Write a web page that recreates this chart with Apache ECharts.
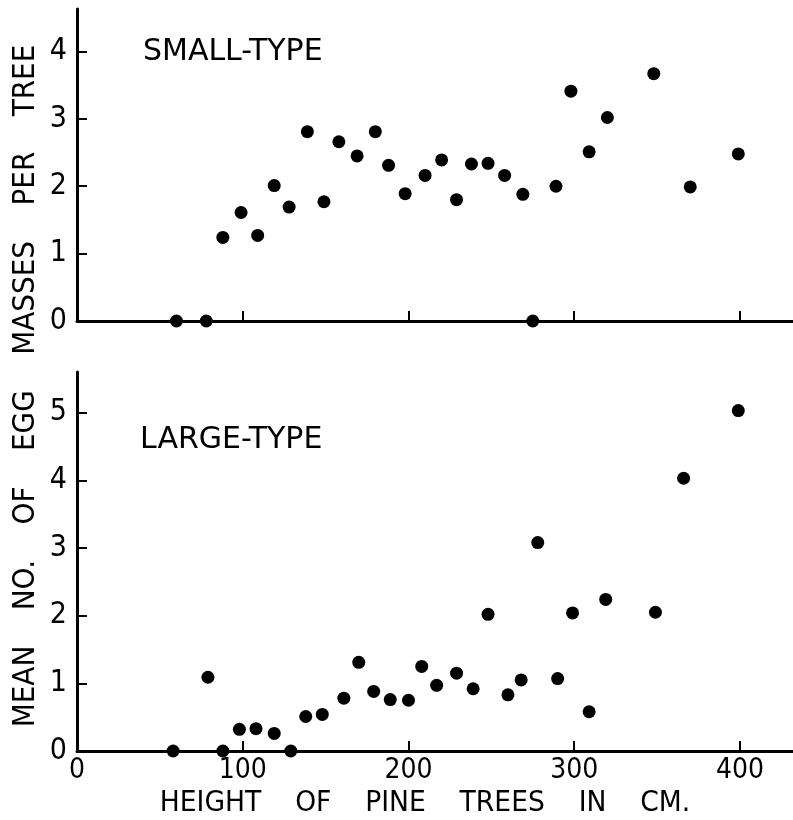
<!DOCTYPE html>
<html>
<head>
<meta charset="utf-8">
<script src="https://cdn.jsdelivr.net/npm/echarts@6/dist/echarts.min.js"></script>
<style>
html,body{margin:0;padding:0;background:#fff;}
#main{width:793px;height:820px;}
</style>
</head>
<body>
<div id="main"></div>
<script>
// Heights of pine trees (cm) and mean number of egg masses per tree
const smallX = [60, 78, 88, 99, 109, 119, 128, 139, 149, 158, 169, 180, 188, 198, 210, 220, 229, 238, 248, 258, 269, 275, 289, 298, 309, 320, 348, 370, 399];
const smallY = [0, 0, 1.24, 1.61, 1.27, 2.01, 1.69, 2.81, 1.77, 2.66, 2.45, 2.81, 2.31, 1.89, 2.16, 2.39, 1.80, 2.33, 2.34, 2.16, 1.88, 0, 2.0, 3.41, 2.51, 3.02, 3.67, 1.99, 2.48];
const largeX = [58, 79, 88, 98, 108, 119, 129, 138, 148, 161, 170, 179, 189, 200, 208, 217, 229, 239, 248, 260, 268, 278, 290, 299, 309, 319, 349, 366, 399];
const largeY = [0, 1.09, 0, 0.32, 0.33, 0.26, 0, 0.51, 0.54, 0.78, 1.31, 0.88, 0.76, 0.75, 1.25, 0.97, 1.15, 0.92, 2.02, 0.83, 1.05, 3.08, 1.07, 2.04, 0.58, 2.24, 2.05, 4.03, 5.03];
const xTicks = [0, 100, 200, 300, 400];
const smallTicks = [0, 1, 2, 3, 4];
const largeTicks = [0, 1, 2, 3, 4, 5];
const panelTitles = ['SMALL-TYPE', 'LARGE-TYPE'];
const xTitle = 'HEIGHT    OF    PINE    TREES    IN    CM.';
const yTitle = 'MEAN    NO.    OF    EGG    MASSES    PER    TREE';

const FONT = "'DejaVu Sans Condensed', 'Roboto', sans-serif";
const chart = echarts.init(document.getElementById('main'), null, {renderer: 'canvas'});

const axisLine = {show: true, lineStyle: {color: '#000', width: 3}};
function xAxis(gridIndex, showLabels) {
  return {
    type: 'value', gridIndex: gridIndex, min: 0, max: 432,
    axisLine: axisLine,
    axisTick: {show: true, inside: true, length: 10, lineStyle: {color: '#000', width: 2}, customValues: [100, 200, 300, 400]},
    axisLabel: {show: showLabels, color: '#000', fontFamily: FONT, fontSize: 28, margin: 6, customValues: xTicks},
    splitLine: {show: false}
  };
}
function yAxis(gridIndex, max, ticks) {
  return {
    type: 'value', gridIndex: gridIndex, min: 0, max: max,
    axisLine: axisLine,
    axisTick: {show: true, inside: true, length: 10, lineStyle: {color: '#000', width: 2}, customValues: ticks.slice(1)},
    axisLabel: {color: '#000', fontFamily: FONT, fontSize: 30, margin: 10, customValues: ticks},
    splitLine: {show: false}
  };
}

chart.setOption({
  animation: false,
  backgroundColor: '#fff',
  grid: [
    {left: 77, top: 9, width: 716, height: 312},
    {left: 77, top: 372, width: 716, height: 379}
  ],
  xAxis: [xAxis(0, false), xAxis(1, true)],
  yAxis: [yAxis(0, 4.63, smallTicks), yAxis(1, 5.6, largeTicks)],
  series: [
    {type: 'scatter', xAxisIndex: 0, yAxisIndex: 0, symbolSize: 13,
     itemStyle: {color: '#000', opacity: 1},
     data: smallX.map((x, i) => [x, smallY[i]])},
    {type: 'scatter', xAxisIndex: 1, yAxisIndex: 1, symbolSize: 13,
     itemStyle: {color: '#000', opacity: 1},
     data: largeX.map((x, i) => [x, largeY[i]])}
  ],
  graphic: [
    {type: 'text', x: 143, y: 52, scaleX: 1.075, style: {text: panelTitles[0], fill: '#000', font: '31px ' + FONT, verticalAlign: 'middle'}},
    {type: 'text', x: 140, y: 440, scaleX: 1.075, style: {text: panelTitles[1], fill: '#000', font: '31px ' + FONT, verticalAlign: 'middle'}},
    {type: 'text', x: 425, y: 803, scaleX: 1.02, style: {text: xTitle, fill: '#000', font: '29px ' + FONT, align: 'center', verticalAlign: 'middle'}},
    {type: 'text', x: 26, y: 386, rotation: Math.PI / 2, style: {text: yTitle, fill: '#000', font: '31px ' + FONT, align: 'center', verticalAlign: 'middle'}}
  ]
});
</script>
</body>
</html>
